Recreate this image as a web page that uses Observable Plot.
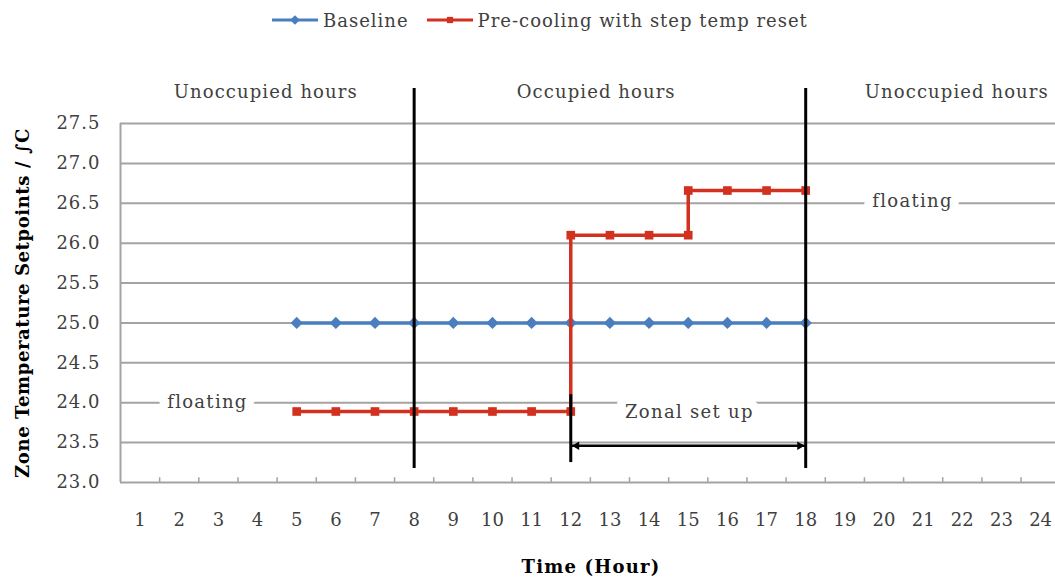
<!DOCTYPE html>
<html><head><meta charset="utf-8">
<script src="https://cdn.jsdelivr.net/npm/d3@7"></script>
<script src="https://cdn.jsdelivr.net/npm/@observablehq/plot@0.6"></script>
<style>
body{margin:0;background:#fff;font-family:"DejaVu Serif",serif;width:1055px;overflow:hidden;}
#legend{height:40px;display:flex;align-items:center;padding-left:270px;font-size:18px;color:#404040;}
#legend .item{display:flex;align-items:center;margin-right:16px;}
#legend span{letter-spacing:1px;}
#legend svg{margin-right:3px;}
</style></head><body><div id="legend"></div><div id="chart"></div>
<script>
// ---- data ----
const hours = [1,2,3,4,5,6,7,8,9,10,11,12,13,14,15,16,17,18,19,20,21,22,23,24];
const baselineHours = [5,6,7,8,9,10,11,12,13,14,15,16,17,18];
const baselineValues = [25,25,25,25,25,25,25,25,25,25,25,25,25,25];
const precoolHours = [5,6,7,8,9,10,11,12,12,13,14,15,15,16,17,18];
const precoolValues = [23.89,23.89,23.89,23.89,23.89,23.89,23.89,23.89,26.1,26.1,26.1,26.1,26.66,26.66,26.66,26.66];
const yTicks = [23,23.5,24,24.5,25,25.5,26,26.5,27,27.5];
const seriesNames = ["Baseline","Pre-cooling with step temp reset"];
const seriesColors = ["#4a7ebf","#d2311f"];
const periodLabels = ["Unoccupied hours","Occupied hours","Unoccupied hours"];
const periodLabelX = [4.21,12.65,21.86];
const periodLabelY = 27.89;
const boundaryHours = [8,18];
const setupHours = [12,18];
const notes = [
  {text:"floating", x:2.72, y:24.0},
  {text:"floating", x:20.73, y:26.52},
  {text:"Zonal set up", x:15.03, y:23.875}
];
const arrowY = 23.46;
const yLabel = "Zone Temperature Setpoints / \u222BC";
const xLabel = "Time (Hour)";

// ---- legend ----
const legend = d3.select("#legend");
seriesNames.forEach((name,i)=>{
  const it = legend.append("div").attr("class","item");
  const s = it.append("svg").attr("width",50).attr("height",16);
  s.append("line").attr("x1",2).attr("x2",48).attr("y1",8).attr("y2",8).attr("stroke",seriesColors[i]).attr("stroke-width",3);
  s.append("path").attr("transform","translate(25,8)")
    .attr("d", d3.symbol(i===0?d3.symbolDiamond2:d3.symbolSquare2, i===0?60:50)())
    .attr("fill",seriesColors[i]);
  it.append("span").text(name);
});

const baseline = baselineHours.map((h,i)=>({h, v:baselineValues[i]}));
const precool = precoolHours.map((h,i)=>({h, v:precoolValues[i]}));
const grid = "#a3a3a3";
const textColor = "#404040";

const chart = Plot.plot({
  width:1055, height:542,
  marginLeft:120, marginRight:0, marginTop:83, marginBottom:100,
  x:{domain:[0.5,24.38]},
  y:{domain:[23,27.5]},
  style:{fontFamily:"DejaVu Serif, serif", fontSize:"18px", color:textColor, background:"#fff", overflow:"visible"},
  marks:[
    Plot.ruleY(yTicks, {stroke:grid, strokeWidth:2}),
    Plot.ruleX([0.5], {y1:23, y2:27.5, stroke:grid, strokeWidth:2}),
    Plot.ruleX(d3.range(1.5,24,1), {y1:23, y2:23.06, stroke:grid, strokeWidth:1.5}),
    Plot.axisX({ticks:hours, tickSize:0, tickPadding:31, label:null, fill:textColor}),
    Plot.axisY({ticks:yTicks, tickFormat:d=>d.toFixed(1), tickSize:0, tickPadding:20, label:null, fill:textColor}),
    Plot.text(notes, {x:"x", y:"y", text:"text", fontSize:18, fill:textColor, stroke:"#fff", strokeWidth:18, lineAnchor:"middle"}),
    Plot.line(baseline, {x:"h", y:"v", stroke:seriesColors[0], strokeWidth:3.5}),
    Plot.dot(baseline, {x:"h", y:"v", symbol:"diamond2", r:5.5, fill:seriesColors[0]}),
    Plot.line(precool, {x:"h", y:"v", stroke:seriesColors[1], strokeWidth:3.5}),
    Plot.dot(precool, {x:"h", y:"v", symbol:"square2", r:5.5, fill:seriesColors[1]}),
    Plot.ruleX(boundaryHours, {y1:27.94, y2:23.175, stroke:"#000", strokeWidth:3}),
    Plot.ruleX([setupHours[0]], {y1:24.1, y2:23.25, stroke:"#000", strokeWidth:3}),
    Plot.ruleY([arrowY], {x1:setupHours[0], x2:setupHours[1], stroke:"#000", strokeWidth:2.5}),
    Plot.dot([setupHours[1]], {x:d=>d, y:arrowY, symbol:"triangle2", r:4, rotate:90, dx:-6, fill:"#000"}),
    Plot.dot([setupHours[0]], {x:d=>d, y:arrowY, symbol:"triangle2", r:4, rotate:-90, dx:6, fill:"#000"}),
    Plot.text(periodLabels, {x:(d,i)=>periodLabelX[i], y:periodLabelY, text:d=>d, fontSize:18, fill:textColor, lineAnchor:"middle"}),
    Plot.text([yLabel], {frameAnchor:"left", rotate:-90, dx:-97, text:d=>d, fontSize:18, fontWeight:"bold", fill:"#000", textAnchor:"middle", lineAnchor:"middle"}),
    Plot.text([xLabel], {frameAnchor:"bottom", dy:85, dx:3, text:d=>d, fontSize:18, fontWeight:"bold", fill:"#000", textAnchor:"middle", lineAnchor:"middle"})
  ]
});
// widen text spacing to match the reference's stretched lettering
const textGroups = d3.select(chart).selectAll('g[aria-label="text"]').nodes();
const spacing = [1.3, 1.1, 0.6, 1.2];
textGroups.forEach((g,i)=>d3.select(g).selectAll("text").attr("letter-spacing", spacing[i]+"px"));
d3.select(chart).selectAll('g[aria-label="y-axis tick label"] text').attr("letter-spacing","1px");
document.getElementById("chart").appendChild(chart);
</script>
</body></html>
